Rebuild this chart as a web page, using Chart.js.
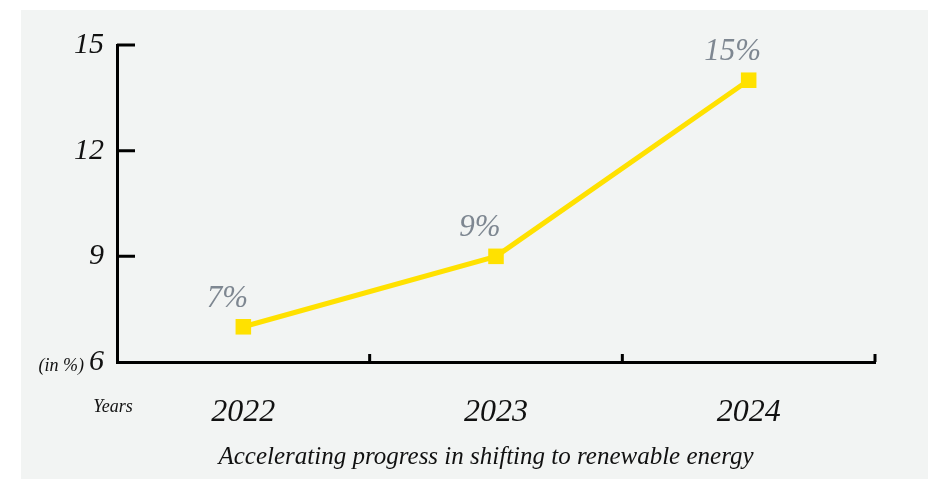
<!DOCTYPE html>
<html>
<head>
<meta charset="utf-8">
<script src="https://cdn.jsdelivr.net/npm/chart.js@4"></script>
<style>
    body { margin: 0; background: #ffffff; }
    #chartWrap { width: 928px; height: 479px; }
</style>
</head>
<body>
<div id="chartWrap"><canvas id="renewChart" width="928" height="479"></canvas></div>
<script>
// Chart data
const years = ['2022', '2023', '2024'];
const shareValues = [7, 9, 14];
const pointLabels = ['7%', '9%', '15%'];
const yTicks = [6, 9, 12, 15];
const chartTitle = 'Accelerating progress in shifting to renewable energy';

const serif = "'Liberation Serif', 'DejaVu Serif', serif";
const yellow = '#FFE100';

// Light panel behind the chart
const panelBg = {
    id: 'panelBg',
    beforeDraw(chart) {
        const c = chart.ctx;
        c.save();
        c.fillStyle = '#f2f4f3';
        c.fillRect(21, 10, chart.width - 21, chart.height - 10);
        c.restore();
    }
};

// Inward ticks, value labels, axis notes and the caption
const extras = {
    id: 'extras',
    afterDatasetsDraw(chart) {
        const c = chart.ctx;
        const x = chart.scales.x;
        const y = chart.scales.y;
        c.save();
        c.strokeStyle = '#000';
        c.lineWidth = 3;
        c.beginPath();
        y.ticks.forEach(t => {
            if (t.value === y.min) return;
            const py = y.getPixelForValue(t.value);
            c.moveTo(x.left, py);
            c.lineTo(x.left + 18, py);
        });
        for (let i = 1; i <= years.length; i++) {
            const px = x.getPixelForValue(i - 0.5);
            c.moveTo(px, y.bottom);
            c.lineTo(px, y.bottom - 8);
        }
        c.stroke();

        // value labels above points
        c.font = 'italic 31px ' + serif;
        c.fillStyle = '#7e8791';
        c.textAlign = 'center';
        c.textBaseline = 'middle';
        chart.getDatasetMeta(0).data.forEach((pt, i) => {
            c.fillText(pointLabels[i], pt.x - 16, pt.y - 28);
        });

        // axis notes
        c.fillStyle = '#111';
        c.font = 'italic 18px ' + serif;
        c.textAlign = 'right';
        c.fillText('(in %)', x.left - 33, y.bottom + 4);
        c.textAlign = 'center';
        c.fillText('Years', x.left - 4, y.bottom + 45);

        // caption under the chart
        c.font = 'italic 25px ' + serif;
        c.fillText(chartTitle, (x.left + x.right) / 2 - 10, y.bottom + 95);
        c.restore();
    }
};

const ctx = document.getElementById('renewChart').getContext('2d');

const renewChart = new Chart(ctx, {
    type: 'line',
    data: {
        labels: years,
        datasets: [{
            data: shareValues,
            borderColor: yellow,
            backgroundColor: yellow,
            borderWidth: 5,
            tension: 0,
            pointStyle: 'rect',
            pointRadius: 11,
            pointBorderWidth: 0,
            pointBackgroundColor: yellow
        }]
    },
    options: {
        responsive: false,
        animation: false,
        layout: {
            padding: { left: 21, right: 53, top: 45, bottom: 39 }
        },
        plugins: {
            legend: { display: false },
            tooltip: { enabled: false },
            title: { display: false }
        },
        scales: {
            x: {
                offset: true,
                grid: { display: false, drawTicks: false },
                border: { display: true, color: '#000', width: 3 },
                ticks: {
                    color: '#111',
                    padding: 31,
                    font: { family: serif, size: 32, style: 'italic' }
                },
                afterFit(scale) { scale.height = 78; }
            },
            y: {
                min: 6,
                max: 15,
                grid: { display: false, drawTicks: false },
                border: { display: true, color: '#000', width: 3 },
                afterBuildTicks(scale) {
                    scale.ticks = yTicks.map(v => ({ value: v }));
                },
                ticks: {
                    color: '#111',
                    padding: 13,
                    font: { family: serif, size: 30, style: 'italic' }
                },
                afterFit(scale) { scale.width = 96; }
            }
        }
    },
    plugins: [panelBg, extras]
});
</script>
</body>
</html>
